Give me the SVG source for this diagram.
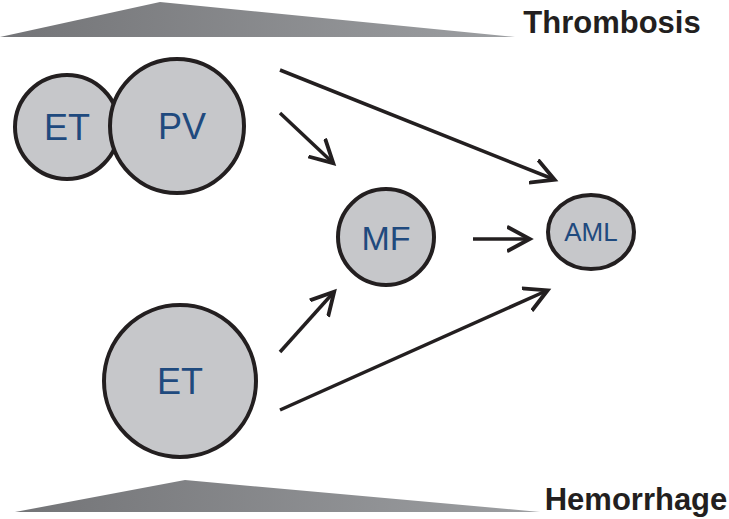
<svg xmlns="http://www.w3.org/2000/svg" width="729" height="519" viewBox="0 0 729 519">
<style>
.n{fill:#c6c7ca;stroke:#231f20;stroke-width:4}
.t{font-family:"Liberation Sans",Arial,sans-serif;fill:#1f4a7e;text-anchor:middle}
.h{font-family:"Liberation Sans",Arial,sans-serif;font-weight:bold;font-size:31px;fill:#231f20;text-anchor:middle}
.c line{stroke:#231f20;stroke-width:3.5;marker-end:url(#a)}
</style>
<defs>
<marker id="a" markerWidth="8" markerHeight="8" refX="6" refY="4" orient="auto" markerUnits="strokeWidth"><path d="M0,0.5 L6.5,4 L0,7.5" fill="none" stroke="#231f20" stroke-width="1.1"/></marker>
<linearGradient id="g" x1="0" y1="0" x2="1" y2="0"><stop offset="0" stop-color="#737477"/><stop offset="1" stop-color="#9d9fa2"/></linearGradient>
</defs>
<polygon points="0,37 160,2 515,37" fill="url(#g)"/>
<polygon points="15,512 185,480 540,512" fill="url(#g)"/>
<text class="h" x="612" y="33">Thrombosis</text>
<text class="h" x="636" y="510">Hemorrhage</text>
<g id="et1"><circle class="n" cx="67" cy="127" r="52"/><text class="t" x="67" y="140" font-size="36">ET</text></g>
<g id="pv"><circle class="n" cx="177" cy="126" r="67"/><text class="t" x="182" y="139" font-size="36">PV</text></g>
<g id="mf"><circle class="n" cx="386" cy="237" r="48"/><text class="t" x="386" y="250" font-size="34">MF</text></g>
<g id="aml"><ellipse class="n" cx="591" cy="232" rx="43" ry="37"/><text class="t" x="591" y="241" font-size="26">AML</text></g>
<g id="et2"><circle class="n" cx="180" cy="381" r="76"/><text class="t" x="180" y="394" font-size="36">ET</text></g>
<g class="c">
<line x1="280" y1="70" x2="553" y2="179"/>
<line x1="280" y1="113" x2="332" y2="162"/>
<line x1="473" y1="239" x2="528" y2="239"/>
<line x1="280" y1="352" x2="333" y2="293"/>
<line x1="280" y1="410" x2="546" y2="291"/>
</g>
</svg>
